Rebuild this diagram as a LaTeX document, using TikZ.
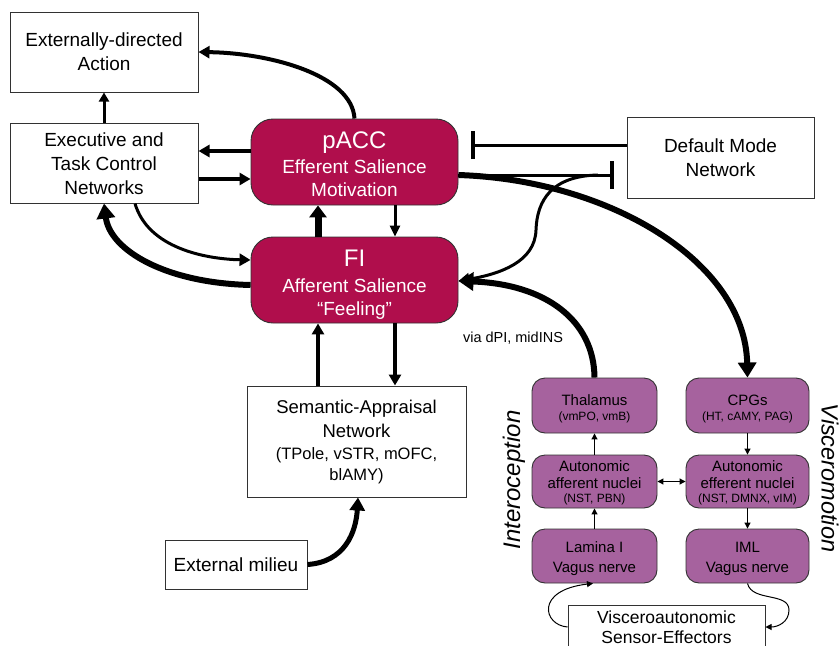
\documentclass[tikz,border=0pt]{standalone}
\usepackage{fontspec}
\setmainfont{Liberation Sans}
\usetikzlibrary{arrows.meta}
\definecolor{crim}{RGB}{176,14,76}
\definecolor{purp}{RGB}{166,98,158}
\definecolor{edge}{RGB}{50,50,50}
\begin{document}
\begin{tikzpicture}[x=1pt,y=-1pt,
  wbox/.style={draw=edge,line width=1pt,fill=white,inner sep=0pt,align=center,
    font=\fontsize{19}{24}\selectfont},
  rbox/.style={draw=edge,line width=0.9pt,fill=crim,rounded corners=22pt,inner sep=0pt,
    align=center,text=white,minimum width=207pt,minimum height=86pt,
    font=\fontsize{19}{24}\selectfont},
  pbox/.style={draw=edge,line width=0.9pt,fill=purp,rounded corners=13pt,inner sep=0pt,
    align=center,font=\fontsize{15}{17}\selectfont},
  thinA/.style={line width=1pt,-{Triangle[length=6pt,width=6pt]}},
  thinAA/.style={line width=1pt,{Triangle[length=6pt,width=6pt]}-{Triangle[length=6pt,width=6pt]}},
  medA/.style={line width=3.5pt,-{Triangle[length=11pt,width=12pt]}},
  curveA/.style={line width=3pt,-{Triangle[length=11pt,width=12pt]}},
  thickA/.style={line width=6pt,-{Triangle[length=15pt,width=18pt]}},
  inhib/.style={line width=3pt,-{Bar[width=28pt,line width=4pt]}},
]
\useasboundingbox (0,0) rectangle (839,646);

% white boxes
\node[wbox,minimum width=188pt,minimum height=80pt] (ext) at (104,52) {Externally-directed\\Action};
\node[wbox,minimum width=188pt,minimum height=80pt] (exec) at (104,163) {\rule{0pt}{16pt}Executive and\\Task Control\\Networks};
\node[wbox,minimum width=187pt,minimum height=81pt] (dmn) at (720.5,157.5) {\rule{0pt}{15pt}Default Mode\\Network};
\node[wbox,minimum width=219pt,minimum height=111pt,font=\fontsize{18.5}{24}\selectfont] (sem) at (356.5,441.5)
  {Semantic-Appraisal\\Network\\[-2pt]{\fontsize{16.5}{21}\selectfont (TPole, vSTR, mOFC,}\\[-3pt]{\fontsize{16.5}{21}\selectfont blAMY)}};
\node[wbox,minimum width=142pt,minimum height=49pt] (extm) at (236,564.5) {External milieu};
\node[wbox,minimum width=197pt,minimum height=44pt,font=\fontsize{17.5}{20}\selectfont] (vis) at (666.5,627) {Visceroautonomic\\Sensor-Effectors};

% crimson boxes
\node[rbox] (pacc) at (354.5,162) {{\fontsize{24}{26}\selectfont\rule{0pt}{22pt}pACC}\\[1pt]Efferent Salience\\[-1pt]Motivation};
\node[rbox] (fi) at (354.5,280) {{\fontsize{24}{26}\selectfont\rule{0pt}{25pt}FI}\\[2pt]Afferent Salience\\[-1pt]“Feeling”};

% purple boxes
\node[pbox,minimum width=125pt,minimum height=55pt] (thal) at (594.5,405.5) {\rule{0pt}{17pt}Thalamus\\[-2pt]{\fontsize{12}{14}\selectfont (vmPO, vmB)}};
\node[pbox,minimum width=123pt,minimum height=55pt] (cpg) at (747.5,405.5) {\rule{0pt}{17pt}CPGs\\[-2pt]{\fontsize{12}{14}\selectfont (HT, cAMY, PAG)}};
\node[pbox,minimum width=125pt,minimum height=53pt] (aff) at (594.5,481.5) {\rule{0pt}{14pt}Autonomic\\afferent nuclei\\[-3pt]{\fontsize{12}{14}\selectfont (NST, PBN)}};
\node[pbox,minimum width=123pt,minimum height=53pt] (eff) at (747.5,481.5) {\rule{0pt}{14pt}Autonomic\\efferent nuclei\\[-3pt]{\fontsize{12}{14}\selectfont (NST, DMNX, vIM)}};
\node[pbox,minimum width=125pt,minimum height=54pt,font=\fontsize{15}{20}\selectfont] (lam) at (594.5,556) {\rule{0pt}{17pt}Lamina I\\Vagus nerve};
\node[pbox,minimum width=123pt,minimum height=54pt,font=\fontsize{15}{20}\selectfont] (iml) at (747.5,556) {\rule{0pt}{17pt}IML\\Vagus nerve};

% side labels
\node[rotate=90,inner sep=0pt,font=\itshape\fontsize{24}{26}\selectfont] (intero) at (514,480) {Interoception};
\node[rotate=-90,inner sep=0pt,font=\itshape\fontsize{23.5}{26}\selectfont] (visc) at (830,478) {Visceromotion};
\node[font=\fontsize{14.5}{16}\selectfont] (via) at (513,338) {via dPI, midINS};

% named free ends
\coordinate (barA) at (471,145);
\coordinate (barB) at (614,175);
\coordinate (sc) at (598,175);

% top-left arrows
\draw[medA,line width=4pt] (pacc.north) .. controls (352,75) and (270,53) .. (ext.east);
\draw[line width=3pt,-{Triangle[length=9pt,width=10pt]}] (exec.north) -- (ext.south);
\draw[medA] (pacc.west |- 0,151) -- (exec.east |- 0,151);
\draw[medA] (exec.east |- 0,179) -- (pacc.west |- 0,179);
\draw[line width=7pt,-{Triangle[length=12pt,width=17pt]}] (fi.north -| 318,0) -- (pacc.south -| 318,0);
\draw[line width=3pt,-{Triangle[length=11pt,width=10pt]}] (pacc.south -| 395,0) -- (fi.north -| 395,0);
\draw[curveA] (exec.south -| 135,0) .. controls (148,248) and (205,259) .. (fi.west |- 0,260);
\draw[thickA] (fi.west |- 0,285) .. controls (165,283) and (110,250) .. (exec.south);

% default mode network
\draw[inhib] (dmn.west |- 0,145) -- (barA);
\draw[inhib] (pacc.east |- 0,175) -- (barB);
\draw[curveA] (sc) .. controls (552,176) and (537,200) .. (536,230) .. controls (535,262) and (500,274) .. (fi.east |- 0,281);

% efferent/afferent long arcs
\draw[thickA] (pacc.east |- 0,175) .. controls (610,180) and (745,262) .. (cpg.north);
\draw[thickA] (thal.north) .. controls (594,320) and (545,284) .. (fi.east |- 0,281);

% FI <-> semantic
\draw[medA] (fi.south -| 395,0) -- (sem.north -| 395,0);
\draw[medA] (sem.north -| 318,0) -- (fi.south -| 318,0);
\draw[line width=5pt,-{Triangle[length=13pt,width=15pt]}] (extm.east) .. controls (345,562) and (356,532) .. (sem.south -| 358,0);

% brainstem chain
\draw[thinA] (aff.north) -- (thal.south);
\draw[thinA] (lam.north) -- (aff.south);
\draw[thinA] (cpg.south) -- (eff.north);
\draw[thinA] (eff.south) -- (iml.north);
\draw[thinAA] (aff.east) -- (eff.west);
\draw[thinA] (vis.west |- 0,627) .. controls (543,625) and (535,590) .. (lam.south -| 593,0);
\draw[thinA] (iml.south) .. controls (752,602) and (789,592) .. (789,610) .. controls (789,622) and (778,627) .. (vis.east |- 0,627);
\end{tikzpicture}
\end{document}
